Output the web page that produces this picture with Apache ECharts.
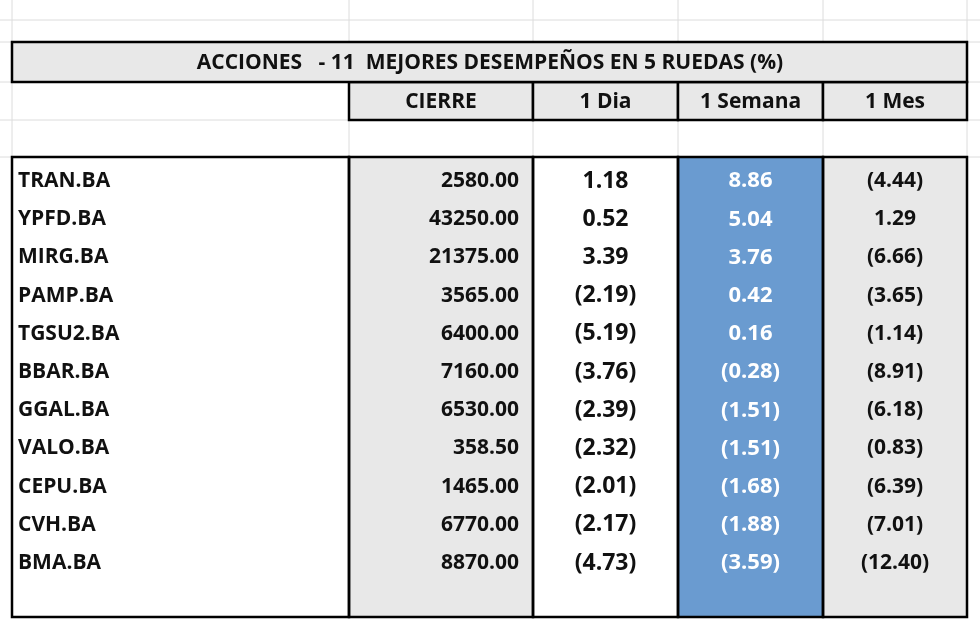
<!DOCTYPE html>
<html><head><meta charset="utf-8">
<script src="https://cdn.jsdelivr.net/npm/echarts@6/dist/echarts.min.js"></script>
<style>html,body{margin:0;background:#fff}#c{width:980px;height:627px}</style>
</head><body><div id="c"></div>
<script>
var title = 'ACCIONES   - 11  MEJORES DESEMPEÑOS EN 5 RUEDAS (%)';
var headers = ['', 'CIERRE', '1 Dia', '1 Semana', '1 Mes'];
var tickers = ['TRAN.BA','YPFD.BA','MIRG.BA','PAMP.BA','TGSU2.BA','BBAR.BA','GGAL.BA','VALO.BA','CEPU.BA','CVH.BA','BMA.BA'];
var cierre = [2580.00,43250.00,21375.00,3565.00,6400.00,7160.00,6530.00,358.50,1465.00,6770.00,8870.00];
var dia = [1.18,0.52,3.39,-2.19,-5.19,-3.76,-2.39,-2.32,-2.01,-2.17,-4.73];
var semana = [8.86,5.04,3.76,0.42,0.16,-0.28,-1.51,-1.51,-1.68,-1.88,-3.59];
var mes = [-4.44,1.29,-6.66,-3.65,-1.14,-8.91,-6.18,-0.83,-6.39,-7.01,-12.40];

// layout
var colEdges = [12, 349, 533, 678, 823, 967];
var titleTop = 42, headTop = 82, headBot = 120, dataTop = 157, rowH = 38.2, tableBot = 617;
var colFill = ['#ffffff', '#e8e8e8', '#ffffff', '#6a9bd0', '#e8e8e8'];
var colSize = [21, 21, 23, 22, 21];

function fmt(v){ var s = Math.abs(v).toFixed(2); return v < 0 ? '(' + s + ')' : s; }

var cells = [];
tickers.forEach(function(t, i){
  cells.push([0, i, t]);
  cells.push([1, i, cierre[i].toFixed(2)]);
  cells.push([2, i, fmt(dia[i])]);
  cells.push([3, i, fmt(semana[i])]);
  cells.push([4, i, fmt(mes[i])]);
});

var chart = echarts.init(document.getElementById('c'));

var font = '"Open Sans", "Liberation Sans", sans-serif';

function renderTable(params, api){
  var kids = [];
  var faint = {stroke:'#dcdcdc', lineWidth:1};
  // spreadsheet gridlines
  [20, 42, 82, 120, 157].forEach(function(y){
    kids.push({type:'line', shape:{x1:0,y1:y,x2:980,y2:y}, style:faint});
  });
  colEdges.forEach(function(x){
    kids.push({type:'line', shape:{x1:x,y1:0,x2:x,y2:157}, style:faint});
  });
  for (var c = 0; c < 5; c++) {
    kids.push({type:'rect', shape:{x:colEdges[c], y:dataTop, width:colEdges[c+1]-colEdges[c], height:tableBot-dataTop}, style:{fill:colFill[c]}});
    if (c > 0) kids.push({type:'rect', shape:{x:colEdges[c], y:headTop, width:colEdges[c+1]-colEdges[c], height:headBot-headTop}, style:{fill:'#e8e8e8', stroke:'#000', lineWidth:2.5}});
  }
  kids.push({type:'rect', shape:{x:12,y:titleTop,width:955,height:headTop-titleTop}, style:{fill:'#e8e8e8', stroke:'#000', lineWidth:2.5}});
  for (c = 0; c < 5; c++) {
    kids.push({type:'rect', shape:{x:colEdges[c], y:dataTop, width:colEdges[c+1]-colEdges[c], height:tableBot-dataTop}, style:{fill:null, stroke:'#000', lineWidth:2.5}});
  }
  kids.push({type:'text', style:{x:490, y:63, text:title, font:'bold 21px ' + font, fill:'#111', align:'center', verticalAlign:'middle'}});
  for (c = 1; c < 5; c++) {
    kids.push({type:'text', style:{x:(colEdges[c]+colEdges[c+1])/2, y:102, text:headers[c], font:'bold 21px ' + font, fill:'#111', align:'center', verticalAlign:'middle'}});
  }
  return {type:'group', children:kids};
}

function renderCell(params, api){
  var c = api.value(0), r = api.value(1);
  var y = dataTop + rowH * (r + 0.63);
  var x, align = 'center';
  if (c === 0) { x = colEdges[0] + 6; align = 'left'; }
  else if (c === 1) { x = colEdges[2] - 14; align = 'right'; }
  else x = (colEdges[c] + colEdges[c+1]) / 2;
  return {type:'text', style:{x:x, y:y, text:cells[params.dataIndex][2], font:'bold ' + colSize[c] + 'px ' + font,
    fill: c === 3 ? '#ffffff' : '#111', align:align, verticalAlign:'middle'}};
}

chart.setOption({
  animation:false,
  grid:{left:0, right:0, top:0, bottom:0},
  xAxis:{type:'value', min:0, max:5, show:false},
  yAxis:{type:'value', min:0, max:11, show:false, inverse:true},
  series:[
    {type:'custom', renderItem:renderTable, data:[[0,0]], silent:true, z:1},
    {type:'custom', renderItem:renderCell, data:cells, silent:true, z:2}
  ]
});
</script></body></html>
